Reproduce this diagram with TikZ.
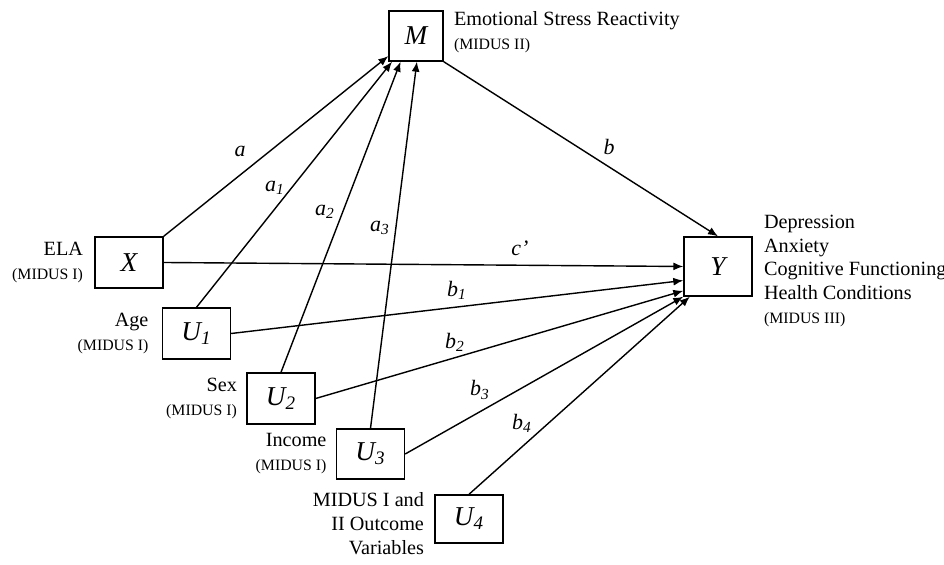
\documentclass[tikz,border=0pt]{standalone}
\usepackage{fontspec}
\setmainfont{Liberation Serif}
\usepackage{tikz}
\usetikzlibrary{arrows.meta,positioning}

\tikzset{
  var/.style={draw, line width=0.8pt, minimum width=1.36cm, minimum height=1.02cm, inner sep=0pt, font=\fontsize{15.5}{18}\selectfont\itshape},
  lab/.style={inner sep=0pt, font=\fontsize{11.5}{13.6}\selectfont},
  path/.style={line width=0.8pt, -{Latex[length=2mm,width=1.6mm]}},
  coef/.style={inner sep=0pt, font=\fontsize{12.5}{14}\selectfont\itshape}
}
\newcommand{\midus}[1]{{\fontsize{9}{13.6}\selectfont (MIDUS #1)}}

\begin{document}
\begin{tikzpicture}
    \useasboundingbox (0, 0) rectangle (18.88, 11.3);

    % boxes
    \node[var, minimum width=1.08cm, minimum height=1.0cm] (M) at (8.32, 10.58) {M};
    \node[var] (X) at (2.58, 6.05) {X};
    \node[var, minimum height=1.18cm] (Y) at (14.36, 5.97) {Y};
    \node[var] (U1) at (3.93, 4.63) {U\textsubscript{1}};
    \node[var] (U2) at (5.62, 3.33) {U\textsubscript{2}};
    \node[var, minimum height=1.0cm] (U3) at (7.41, 2.22) {U\textsubscript{3}};
    \node[var, minimum height=0.96cm] (U4) at (9.38, 0.92) {U\textsubscript{4}};

    % descriptions
    \node[lab, align=left, anchor=north west] (Mlab) at ([xshift=0.2cm, yshift=-0.02cm]M.north east)
        {Emotional Stress Reactivity\\\midus{II}};
    \node[lab, align=left, right=0.22cm of Y, yshift=-0.09cm] (Ylab)
        {Depression\\Anxiety\\Cognitive Functioning\\Health Conditions\\\midus{III}};
    \node[lab, align=right, left=0.22cm of X] (Xlab) {ELA\\\midus{I}};
    \node[lab, align=right, left=0.26cm of U1] (U1lab) {Age\\\midus{I}};
    \node[lab, align=right, left=0.18cm of U2] (U2lab) {Sex\\\midus{I}};
    \node[lab, align=right, left=0.18cm of U3] (U3lab) {Income\\\midus{I}};
    \node[lab, align=right, left=0.2cm of U4, yshift=-0.1cm] (U4lab)
        {MIDUS I and\\II Outcome\\Variables};

    % paths to M
    \draw[path] (X.north east) -- (M.216);
    \draw[path] (U1.north) -- (M.227);
    \draw[path] (U2.north) -- (M.239);
    \draw[path] (U3.north) -- (M.272);

    % paths to Y
    \draw[path] (M.south east) -- (Y.north);
    \draw[path] (X.east) -- (Y.west);
    \draw[path] (U1.east) -- (Y.202);
    \draw[path] (U2.east) -- (Y.215);
    \draw[path] (U3.east) -- (Y.south west);
    \draw[path] (U4.north) -- (Y.227);

    % coefficients
    \node[coef] (ca) at (4.80, 8.28) {a};
    \node[coef] (ca1) at (5.50, 7.54) {a\textsubscript{1}};
    \node[coef] (ca2) at (6.50, 7.06) {a\textsubscript{2}};
    \node[coef] (ca3) at (7.60, 6.74) {a\textsubscript{3}};
    \node[coef] (cb) at (12.18, 8.36) {b};
    \node[coef] (cc) at (10.40, 6.34) {c’};
    \node[coef] (cb1) at (9.14, 5.50) {b\textsubscript{1}};
    \node[coef] (cb2) at (9.10, 4.46) {b\textsubscript{2}};
    \node[coef] (cb3) at (9.60, 3.50) {b\textsubscript{3}};
    \node[coef] (cb4) at (10.44, 2.84) {b\textsubscript{4}};
\end{tikzpicture}
\end{document}
